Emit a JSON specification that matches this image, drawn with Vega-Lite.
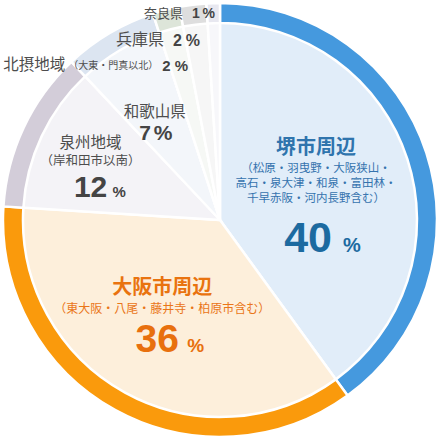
{
  "$schema": "https://vega.github.io/schema/vega-lite/v6.json",
  "width": 440,
  "height": 440,
  "autosize": {"type": "none"},
  "padding": 0,
  "background": "#ffffff",
  "config": {"view": {"stroke": null}},
  "data": {
    "values": [
      {"name": "堺市周辺", "sub": "（松原・羽曳野・大阪狭山・\n高石・泉大津・和泉・富田林・\n千早赤阪・河内長野含む）", "value": 40, "order": 1},
      {"name": "大阪市周辺", "sub": "（東大阪・八尾・藤井寺・柏原市含む）", "value": 36, "order": 2},
      {"name": "泉州地域", "sub": "（岸和田市以南）", "value": 12, "order": 3},
      {"name": "和歌山県", "sub": "", "value": 7, "order": 4},
      {"name": "北摂地域", "sub": "（大東・門真以北）", "value": 2, "order": 5},
      {"name": "兵庫県", "sub": "", "value": 2, "order": 6},
      {"name": "奈良県", "sub": "", "value": 1, "order": 7}
    ]
  },
  "encoding": {
    "theta": {"field": "value", "type": "quantitative", "stack": true},
    "order": {"field": "order", "type": "quantitative"}
  },
  "layer": [
    {
      "mark": {"type": "arc", "outerRadius": 200, "stroke": "#ffffff", "strokeWidth": 2.5},
      "encoding": {
        "color": {
          "field": "name", "type": "nominal", "legend": null,
          "scale": {
            "domain": ["堺市周辺", "大阪市周辺", "泉州地域", "和歌山県", "北摂地域", "兵庫県", "奈良県"],
            "range": ["#e1edf9", "#fdefdb", "#f4f3f7", "#f3f6fa", "#f6f8f5", "#f6f6f6", "#f7f7fa"]
          }
        }
      }
    },
    {
      "mark": {"type": "arc", "innerRadius": 197, "outerRadius": 217, "stroke": "#ffffff", "strokeWidth": 2.5},
      "encoding": {
        "color": {
          "field": "name", "type": "nominal", "legend": null,
          "scale": {
            "domain": ["堺市周辺", "大阪市周辺", "泉州地域", "和歌山県", "北摂地域", "兵庫県", "奈良県"],
            "range": ["#4599de", "#fa9a0c", "#d3cdd9", "#dce5f1", "#dde5d9", "#dedede", "#e8e8f0"]
          }
        }
      }
    },
    {
      "mark": {"type": "text", "radius": 101, "dy": -41, "font": "Noto Sans CJK JP", "fontSize": 20, "fontWeight": "bold", "fill": "#2f74ad"},
      "encoding": {"text": {"condition": {"test": "datum.name === '堺市周辺'", "field": "name"}, "value": ""}}
    },
    {
      "mark": {"type": "text", "radius": 101, "dy": -19.5, "lineBreak": "\n", "lineHeight": 15, "font": "Noto Sans CJK JP", "fontSize": 11.5, "fill": "#3573ae"},
      "encoding": {"text": {"condition": {"test": "datum.name === '堺市周辺'", "field": "sub"}, "value": ""}}
    },
    {
      "mark": {"type": "text", "radius": 101, "dx": -8, "dy": 63, "baseline": "alphabetic", "font": "Liberation Sans", "fontSize": 43, "fontWeight": "bold", "fill": "#1c6aa0"},
      "encoding": {"text": {"condition": {"test": "datum.name === '堺市周辺'", "field": "value", "type": "quantitative"}, "value": ""}}
    },
    {
      "mark": {"type": "text", "radius": 101, "dx": 27, "dy": 63, "align": "left", "baseline": "alphabetic", "font": "Liberation Sans", "fontSize": 20, "fontWeight": "bold", "fill": "#1c6aa0"},
      "encoding": {"text": {"condition": {"test": "datum.name === '堺市周辺'", "value": "%"}, "value": ""}}
    },
    {
      "mark": {"type": "text", "radius": 120, "dy": -37, "font": "Noto Sans CJK JP", "fontSize": 20, "fontWeight": "bold", "fill": "#e9730f"},
      "encoding": {"text": {"condition": {"test": "datum.name === '大阪市周辺'", "field": "name"}, "value": ""}}
    },
    {
      "mark": {"type": "text", "radius": 120, "dy": -16, "font": "Noto Sans CJK JP", "fontSize": 12, "fill": "#ea7618"},
      "encoding": {"text": {"condition": {"test": "datum.name === '大阪市周辺'", "field": "sub"}, "value": ""}}
    },
    {
      "mark": {"type": "text", "radius": 120, "dx": -5, "dy": 27, "baseline": "alphabetic", "font": "Liberation Sans", "fontSize": 39, "fontWeight": "bold", "fill": "#e8700e"},
      "encoding": {"text": {"condition": {"test": "datum.name === '大阪市周辺'", "field": "value", "type": "quantitative"}, "value": ""}}
    },
    {
      "mark": {"type": "text", "radius": 120, "dx": 25, "dy": 27, "align": "left", "baseline": "alphabetic", "font": "Liberation Sans", "fontSize": 19, "fontWeight": "bold", "fill": "#e8700e"},
      "encoding": {"text": {"condition": {"test": "datum.name === '大阪市周辺'", "value": "%"}, "value": ""}}
    },
    {
      "mark": {"type": "text", "radius": 143, "dy": -16.5, "font": "Noto Sans CJK JP", "fontSize": 15.5, "fill": "#4d4d4d"},
      "encoding": {"text": {"condition": {"test": "datum.name === '泉州地域'", "field": "name"}, "value": ""}}
    },
    {
      "mark": {"type": "text", "radius": 143, "dy": 2, "font": "Noto Sans CJK JP", "fontSize": 12.5, "fill": "#4d4d4d"},
      "encoding": {"text": {"condition": {"test": "datum.name === '泉州地域'", "field": "sub"}, "value": ""}}
    },
    {
      "mark": {"type": "text", "radius": 143, "dy": 38, "baseline": "alphabetic", "font": "Liberation Sans", "fontSize": 30, "fontWeight": "bold", "fill": "#444444"},
      "encoding": {"text": {"condition": {"test": "datum.name === '泉州地域'", "field": "value", "type": "quantitative"}, "value": ""}}
    },
    {
      "mark": {"type": "text", "radius": 143, "dx": 22, "dy": 38, "align": "left", "baseline": "alphabetic", "font": "Liberation Sans", "fontSize": 15, "fontWeight": "bold", "fill": "#444444"},
      "encoding": {"text": {"condition": {"test": "datum.name === '泉州地域'", "value": "%"}, "value": ""}}
    },
    {
      "mark": {"type": "text", "radius": 128, "dy": 2, "font": "Noto Sans CJK JP", "fontSize": 15.5, "fill": "#4d4d4d"},
      "encoding": {"text": {"condition": {"test": "datum.name === '和歌山県'", "field": "name"}, "value": ""}}
    },
    {
      "mark": {"type": "text", "radius": 128, "dx": -4, "dy": 30, "align": "right", "baseline": "alphabetic", "font": "Liberation Sans", "fontSize": 21, "fontWeight": "bold", "fill": "#444444"},
      "encoding": {"text": {"condition": {"test": "datum.name === '和歌山県'", "field": "value", "type": "quantitative"}, "value": ""}}
    },
    {
      "mark": {"type": "text", "radius": 128, "dx": -1, "dy": 30, "align": "left", "baseline": "alphabetic", "font": "Liberation Sans", "fontSize": 21, "fontWeight": "bold", "fill": "#444444"},
      "encoding": {"text": {"condition": {"test": "datum.name === '和歌山県'", "value": "%"}, "value": ""}}
    },
    {
      "mark": {"type": "text", "radius": 160, "dx": -115, "dy": 0, "align": "right", "font": "Noto Sans CJK JP", "fontSize": 15.5, "fill": "#4d4d4d"},
      "encoding": {"text": {"condition": {"test": "datum.name === '北摂地域'", "field": "name"}, "value": ""}}
    },
    {
      "mark": {"type": "text", "radius": 160, "dx": -112, "dy": 1, "align": "left", "font": "Noto Sans CJK JP", "fontSize": 10, "fill": "#4d4d4d"},
      "encoding": {"text": {"condition": {"test": "datum.name === '北摂地域'", "field": "sub"}, "value": ""}}
    },
    {
      "mark": {"type": "text", "radius": 160, "dx": -18, "dy": 1, "align": "left", "font": "Liberation Sans", "fontSize": 15, "fontWeight": "bold", "fill": "#444444"},
      "encoding": {"text": {"condition": {"test": "datum.name === '北摂地域'", "field": "value", "type": "quantitative"}, "value": ""}}
    },
    {
      "mark": {"type": "text", "radius": 160, "dx": 8, "dy": 1, "align": "right", "font": "Liberation Sans", "fontSize": 15, "fontWeight": "bold", "fill": "#444444"},
      "encoding": {"text": {"condition": {"test": "datum.name === '北摂地域'", "value": "%"}, "value": ""}}
    },
    {
      "mark": {"type": "text", "radius": 180, "dx": -33.5, "dy": -1, "align": "right", "font": "Noto Sans CJK JP", "fontSize": 16, "fill": "#4d4d4d"},
      "encoding": {"text": {"condition": {"test": "datum.name === '兵庫県'", "field": "name"}, "value": ""}}
    },
    {
      "mark": {"type": "text", "radius": 180, "dx": -24.5, "dy": 0, "align": "left", "font": "Liberation Sans", "fontSize": 16, "fontWeight": "bold", "fill": "#444444"},
      "encoding": {"text": {"condition": {"test": "datum.name === '兵庫県'", "field": "value", "type": "quantitative"}, "value": ""}}
    },
    {
      "mark": {"type": "text", "radius": 180, "dx": 2.5, "dy": 0, "align": "right", "font": "Liberation Sans", "fontSize": 16, "fontWeight": "bold", "fill": "#444444"},
      "encoding": {"text": {"condition": {"test": "datum.name === '兵庫県'", "value": "%"}, "value": ""}}
    },
    {
      "mark": {"type": "text", "radius": 206, "dx": -30.5, "dy": 0, "align": "right", "font": "Noto Sans CJK JP", "fontSize": 13, "fill": "#4d4d4d"},
      "encoding": {"text": {"condition": {"test": "datum.name === '奈良県'", "field": "name"}, "value": ""}}
    },
    {
      "mark": {"type": "text", "radius": 206, "dx": -21.5, "dy": 0, "align": "left", "font": "Liberation Sans", "fontSize": 14, "fontWeight": "bold", "fill": "#444444"},
      "encoding": {"text": {"condition": {"test": "datum.name === '奈良県'", "field": "value", "type": "quantitative"}, "value": ""}}
    },
    {
      "mark": {"type": "text", "radius": 206, "dx": 1.5, "dy": 0, "align": "right", "font": "Liberation Sans", "fontSize": 14, "fontWeight": "bold", "fill": "#444444"},
      "encoding": {"text": {"condition": {"test": "datum.name === '奈良県'", "value": "%"}, "value": ""}}
    }
  ],
  "resolve": {"scale": {"color": "independent"}}
}
